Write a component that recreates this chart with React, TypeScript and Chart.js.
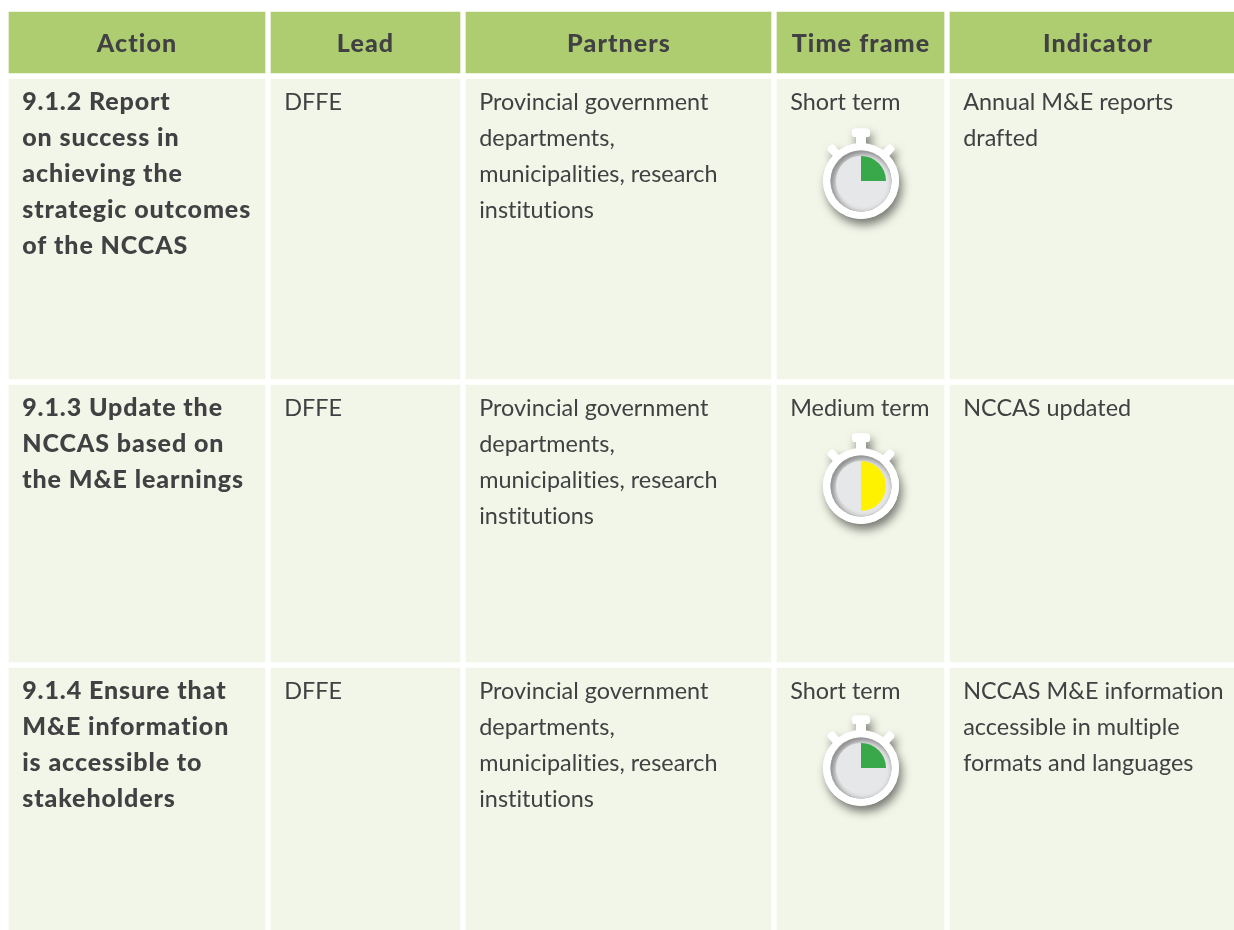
import React, { useEffect, useRef } from "react";
import { Chart, registerables } from "chart.js";

Chart.register(...registerables);

const headers = ["Action", "Lead", "Partners", "Time frame", "Indicator"];
const actionLines = [
  ["9.1.2 Report", "on success in", "achieving the", "strategic outcomes", "of the NCCAS"],
  ["9.1.3 Update the", "NCCAS based on", "the M&E learnings"],
  ["9.1.4 Ensure that", "M&E information", "is accessible to", "stakeholders"],
];
const leads = [["DFFE"], ["DFFE"], ["DFFE"]];
const partnerLines = ["Provincial government", "departments,", "municipalities, research", "institutions"];
const partners = [partnerLines, partnerLines, partnerLines];
const timeFrames = [["Short term"], ["Medium term"], ["Short term"]];
const indicators = [
  ["Annual M&E reports", "drafted"],
  ["NCCAS updated"],
  ["NCCAS M&E information", "accessible in multiple", "formats and languages"],
];
// share of the stopwatch dial that is filled, in percent
const dialShare = [25, 50, 25];
const dialColors = ["#39a84a", "#fff200", "#39a84a"];

// table grid, in the units of the chart's axes
const columnStarts = [9, 271, 466, 777, 950];
const columnEnds = [265, 460, 771, 944, 1234];
const headerCentres = [137, 365.5, 619, 861, 1098];
const rowStarts = [12, 79, 385, 668];
const rowEnds = [73, 379, 662, 930];

const textInk = "#414042";
const headerFill = "#aecd70";
const cellFill = "#f2f6e8";
const bodyFont = '23.4px Lato, "Noto Sans", sans-serif';
const boldFont = '900 25px Lato, "Noto Sans", sans-serif';
const headerFont = '900 25px Lato, "Noto Sans", sans-serif';

const tablePlugin = {
  id: "tableText",
  afterDatasetsDraw(chart: any) {
    const { ctx, scales } = chart;
    const x = scales.x;
    const y = scales.y;
    ctx.save();
    ctx.fillStyle = textInk;
    ctx.textBaseline = "alphabetic";
    ctx.textAlign = "center";
    ctx.font = headerFont;
    (ctx as any).letterSpacing = "1.1px";
    headers.forEach((h, c) => {
      ctx.fillText(h, x.getPixelForValue(headerCentres[c]), y.getPixelForValue(rowStarts[0]) + 39.5);
    });
    ctx.textAlign = "left";
    const columns = [actionLines, leads, partners, timeFrames, indicators];
    columns.forEach((col, c) => {
      ctx.font = c === 0 ? boldFont : bodyFont;
      // a small non-zero spacing also keeps the "ti" ligature apart
      (ctx as any).letterSpacing = c === 0 ? "0.9px" : "0.01px";
      col.forEach((lines, r) => {
        lines.forEach((line, i) => {
          ctx.fillText(
            line,
            x.getPixelForValue(columnStarts[c]) + 13.2,
            y.getPixelForValue(rowStarts[r + 1]) + 30.5 + i * 36
          );
        });
      });
    });
    ctx.restore();
  },
};

const watchPlugin = {
  id: "watchBody",
  beforeDatasetsDraw(chart: any) {
    const { ctx, chartArea } = chart;
    const cx = (chartArea.left + chartArea.right) / 2;
    const cy = (chartArea.top + chartArea.bottom) / 2;
    const silhouette = () => {
      ctx.beginPath();
      ctx.arc(cx, cy, 38, 0, Math.PI * 2);
      ctx.fill();
      ctx.beginPath();
      ctx.roundRect(cx - 9, cy - 52.5, 18, 8.5, 3.5);
      ctx.rect(cx - 5, cy - 46, 10, 12);
      ctx.fill();
      [-1, 1].forEach((s) => {
        ctx.save();
        ctx.translate(cx, cy);
        ctx.rotate((s * 42 * Math.PI) / 180);
        ctx.beginPath();
        ctx.roundRect(-4, -47, 8, 14, 3);
        ctx.fill();
        ctx.restore();
      });
    };
    ctx.save();
    ctx.shadowColor = "rgba(0,0,0,0.5)";
    ctx.shadowBlur = 10;
    ctx.shadowOffsetX = 3;
    ctx.shadowOffsetY = 6;
    ctx.fillStyle = "#ffffff";
    silhouette();
    ctx.restore();

    ctx.save();
    ctx.fillStyle = "#ffffff";
    silhouette();
    ctx.beginPath();
    ctx.arc(cx, cy, 30.5, 0, Math.PI * 2);
    ctx.fillStyle = "#e6e7e8";
    ctx.fill();
    ctx.clip();
    ctx.shadowColor = "rgba(0,0,0,0.55)";
    ctx.shadowBlur = 6;
    ctx.shadowOffsetX = 2.5;
    ctx.shadowOffsetY = 2.5;
    ctx.lineWidth = 6;
    ctx.strokeStyle = "#888888";
    ctx.beginPath();
    ctx.arc(cx, cy, 33.5, 0, Math.PI * 2);
    ctx.stroke();
    ctx.restore();
  },
};

function Stopwatch({ share, color, top }: { share: number; color: string; top: number }) {
  const ref = useRef<HTMLCanvasElement>(null);
  useEffect(() => {
    const chart = new Chart(ref.current!, {
      type: "pie",
      data: {
        labels: ["Elapsed", "Remaining"],
        datasets: [{ data: [share, 100 - share], backgroundColor: [color, "#e6e7e8"], borderWidth: 0 }],
      },
      options: {
        animation: false,
        responsive: false,
        radius: 25,
        plugins: { legend: { display: false }, tooltip: { enabled: false } },
      } as any,
      plugins: [watchPlugin],
    });
    return () => chart.destroy();
  }, [share, color]);
  return (
    <canvas
      ref={ref}
      width={130}
      height={130}
      style={{ position: "absolute", left: 861 - 65, top: top - 65, width: 130, height: 130 }}
    />
  );
}

const dialCentres = [180.7, 485.7, 768.3];

export default function App() {
  const ref = useRef<HTMLCanvasElement>(null);
  useEffect(() => {
    const datasets = rowStarts.map((start, r) => ({
      label: r === 0 ? "Header" : `Row ${r}`,
      data: columnStarts.map((c, i) => ({ x: [c, columnEnds[i]], y: (start + rowEnds[r]) / 2 })),
      backgroundColor: r === 0 ? headerFill : cellFill,
      barThickness: rowEnds[r] - start,
      borderWidth: 0,
      grouped: false,
    }));
    const chart = new Chart(ref.current!, {
      type: "bar",
      data: { datasets },
      options: {
        animation: false,
        responsive: false,
        indexAxis: "y",
        layout: { padding: 0 },
        parsing: { xAxisKey: "x", yAxisKey: "y" },
        scales: {
          x: { type: "linear", min: 0, max: 1234, display: false, offset: false },
          y: { type: "linear", min: 0, max: 930, reverse: true, display: false, offset: false },
        },
        plugins: { legend: { display: false }, tooltip: { enabled: false } },
      } as any,
      plugins: [tablePlugin],
    });
    return () => chart.destroy();
  }, []);
  return (
    <div style={{ position: "absolute", left: 0, top: 0, width: 1234, height: 930, overflow: "hidden", background: "#fff" }}>
      <canvas ref={ref} width={1234} height={930} style={{ position: "absolute", left: 0, top: 0, width: 1234, height: 930 }} />
      {dialShare.map((s, i) => (
        <Stopwatch key={i} share={s} color={dialColors[i]} top={dialCentres[i]} />
      ))}
    </div>
  );
}
